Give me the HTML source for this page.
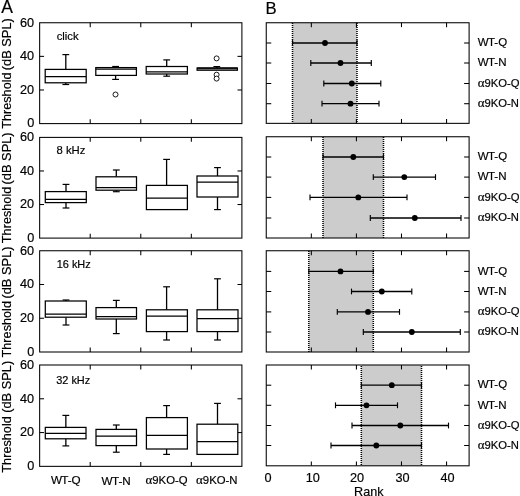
<!DOCTYPE html>
<html lang="en">
<head>
<meta charset="utf-8">
<title>Figure: ABR thresholds and rank comparison</title>
<style>
html,body{margin:0;padding:0;background:#fff;}
body{width:520px;height:496px;overflow:hidden;}
svg{display:block;font-family:'Liberation Sans', Arial, Helvetica, sans-serif;fill:#000;will-change:transform;transform:translateZ(0);}
text{stroke:#000;stroke-width:0.18px;}
</style>
</head>
<body>
<svg width="520" height="496" viewBox="0 0 520 496">
<rect x="0" y="0" width="520" height="496" fill="#fff"/>
<rect x="39.65" y="22.75" width="202.25" height="100.85" fill="#fff" stroke="#000" stroke-width="1.05"/>
<line x1="90.21" y1="22.75" x2="90.21" y2="27.15" stroke="#000" stroke-width="1.05" />
<line x1="90.21" y1="123.60" x2="90.21" y2="119.20" stroke="#000" stroke-width="1.05" />
<line x1="140.78" y1="22.75" x2="140.78" y2="27.15" stroke="#000" stroke-width="1.05" />
<line x1="140.78" y1="123.60" x2="140.78" y2="119.20" stroke="#000" stroke-width="1.05" />
<line x1="191.34" y1="22.75" x2="191.34" y2="27.15" stroke="#000" stroke-width="1.05" />
<line x1="191.34" y1="123.60" x2="191.34" y2="119.20" stroke="#000" stroke-width="1.05" />
<line x1="39.65" y1="56.37" x2="44.05" y2="56.37" stroke="#000" stroke-width="1.05" />
<line x1="241.90" y1="56.37" x2="237.50" y2="56.37" stroke="#000" stroke-width="1.05" />
<line x1="39.65" y1="89.98" x2="44.05" y2="89.98" stroke="#000" stroke-width="1.05" />
<line x1="241.90" y1="89.98" x2="237.50" y2="89.98" stroke="#000" stroke-width="1.05" />
<text x="34.20" y="26.50" font-size="12.7" text-anchor="end" >60</text>
<text x="34.20" y="60.12" font-size="12.7" text-anchor="end" >40</text>
<text x="34.20" y="93.73" font-size="12.7" text-anchor="end" >20</text>
<text x="34.20" y="127.35" font-size="12.7" text-anchor="end" >0</text>
<text x="0.00" y="0.00" font-size="12.7" text-anchor="start" transform="translate(10.55 128.85) rotate(-90)">Threshold</text>
<text x="0.00" y="0.00" font-size="12.85" text-anchor="end" transform="translate(10.55 18.15) rotate(-90)">(dB SPL)</text>
<text x="56.70" y="40.20" font-size="11.3" text-anchor="start" >click</text>
<line x1="65.80" y1="69.40" x2="65.80" y2="54.60" stroke="#000" stroke-width="1.3" />
<line x1="62.40" y1="54.60" x2="69.20" y2="54.60" stroke="#000" stroke-width="1.2" />
<line x1="65.80" y1="82.80" x2="65.80" y2="84.50" stroke="#000" stroke-width="1.3" />
<line x1="62.40" y1="84.50" x2="69.20" y2="84.50" stroke="#000" stroke-width="1.2" />
<rect x="45.2" y="69.4" width="41.00" height="13.40" fill="#fff" stroke="#000" stroke-width="1.25"/>
<line x1="45.20" y1="76.50" x2="86.20" y2="76.50" stroke="#000" stroke-width="1.25" />
<line x1="115.60" y1="67.60" x2="115.60" y2="66.50" stroke="#000" stroke-width="1.3" />
<line x1="112.20" y1="66.50" x2="119.00" y2="66.50" stroke="#000" stroke-width="1.2" />
<line x1="115.60" y1="75.40" x2="115.60" y2="79.40" stroke="#000" stroke-width="1.3" />
<line x1="112.20" y1="79.40" x2="119.00" y2="79.40" stroke="#000" stroke-width="1.2" />
<rect x="95.8" y="67.6" width="40.60" height="7.80" fill="#fff" stroke="#000" stroke-width="1.25"/>
<line x1="95.80" y1="69.00" x2="136.40" y2="69.00" stroke="#000" stroke-width="1.25" />
<circle cx="115.5" cy="94.5" r="2.5" fill="#fff" stroke="#000" stroke-width="0.9"/>
<line x1="166.70" y1="66.50" x2="166.70" y2="59.90" stroke="#000" stroke-width="1.3" />
<line x1="163.30" y1="59.90" x2="170.10" y2="59.90" stroke="#000" stroke-width="1.2" />
<line x1="166.70" y1="74.00" x2="166.70" y2="76.20" stroke="#000" stroke-width="1.3" />
<line x1="163.30" y1="76.20" x2="170.10" y2="76.20" stroke="#000" stroke-width="1.2" />
<rect x="146.2" y="66.5" width="41.20" height="7.50" fill="#fff" stroke="#000" stroke-width="1.25"/>
<line x1="146.20" y1="71.80" x2="187.40" y2="71.80" stroke="#000" stroke-width="1.25" />
<line x1="216.80" y1="68.00" x2="216.80" y2="66.60" stroke="#000" stroke-width="1.3" />
<line x1="213.40" y1="66.60" x2="220.20" y2="66.60" stroke="#000" stroke-width="1.2" />
<rect x="197.1" y="68.0" width="40.30" height="2.20" fill="#a8a8a8" stroke="#000" stroke-width="1.25"/>
<line x1="197.10" y1="68.00" x2="237.40" y2="68.00" stroke="#000" stroke-width="1.25" />
<circle cx="216.6" cy="58.4" r="2.5" fill="#fff" stroke="#000" stroke-width="0.9"/>
<circle cx="216.6" cy="74.7" r="2.5" fill="#fff" stroke="#000" stroke-width="0.9"/>
<circle cx="216.6" cy="78.6" r="2.5" fill="#fff" stroke="#000" stroke-width="0.9"/>
<rect x="39.65" y="137.4" width="202.25" height="100.70" fill="#fff" stroke="#000" stroke-width="1.05"/>
<line x1="90.21" y1="137.40" x2="90.21" y2="141.80" stroke="#000" stroke-width="1.05" />
<line x1="90.21" y1="238.10" x2="90.21" y2="233.70" stroke="#000" stroke-width="1.05" />
<line x1="140.78" y1="137.40" x2="140.78" y2="141.80" stroke="#000" stroke-width="1.05" />
<line x1="140.78" y1="238.10" x2="140.78" y2="233.70" stroke="#000" stroke-width="1.05" />
<line x1="191.34" y1="137.40" x2="191.34" y2="141.80" stroke="#000" stroke-width="1.05" />
<line x1="191.34" y1="238.10" x2="191.34" y2="233.70" stroke="#000" stroke-width="1.05" />
<line x1="39.65" y1="170.97" x2="44.05" y2="170.97" stroke="#000" stroke-width="1.05" />
<line x1="241.90" y1="170.97" x2="237.50" y2="170.97" stroke="#000" stroke-width="1.05" />
<line x1="39.65" y1="204.53" x2="44.05" y2="204.53" stroke="#000" stroke-width="1.05" />
<line x1="241.90" y1="204.53" x2="237.50" y2="204.53" stroke="#000" stroke-width="1.05" />
<text x="34.20" y="141.00" font-size="12.7" text-anchor="end" >60</text>
<text x="34.20" y="174.57" font-size="12.7" text-anchor="end" >40</text>
<text x="34.20" y="208.13" font-size="12.7" text-anchor="end" >20</text>
<text x="34.20" y="241.70" font-size="12.7" text-anchor="end" >0</text>
<text x="0.00" y="0.00" font-size="12.7" text-anchor="start" transform="translate(10.55 243.15) rotate(-90)">Threshold</text>
<text x="0.00" y="0.00" font-size="12.85" text-anchor="end" transform="translate(10.55 132.35) rotate(-90)">(dB SPL)</text>
<text x="56.50" y="153.70" font-size="11.3" text-anchor="start" >8 kHz</text>
<line x1="66.00" y1="191.60" x2="66.00" y2="184.40" stroke="#000" stroke-width="1.3" />
<line x1="62.60" y1="184.40" x2="69.40" y2="184.40" stroke="#000" stroke-width="1.2" />
<line x1="66.00" y1="202.60" x2="66.00" y2="208.00" stroke="#000" stroke-width="1.3" />
<line x1="62.60" y1="208.00" x2="69.40" y2="208.00" stroke="#000" stroke-width="1.2" />
<rect x="45.3" y="191.6" width="41.00" height="11.00" fill="#fff" stroke="#000" stroke-width="1.25"/>
<line x1="45.30" y1="199.40" x2="86.30" y2="199.40" stroke="#000" stroke-width="1.25" />
<line x1="116.30" y1="176.80" x2="116.30" y2="170.00" stroke="#000" stroke-width="1.3" />
<line x1="112.90" y1="170.00" x2="119.70" y2="170.00" stroke="#000" stroke-width="1.2" />
<line x1="116.30" y1="190.20" x2="116.30" y2="191.70" stroke="#000" stroke-width="1.3" />
<line x1="112.90" y1="191.70" x2="119.70" y2="191.70" stroke="#000" stroke-width="1.2" />
<rect x="96.0" y="176.8" width="40.50" height="13.40" fill="#fff" stroke="#000" stroke-width="1.25"/>
<line x1="96.00" y1="187.60" x2="136.50" y2="187.60" stroke="#000" stroke-width="1.25" />
<line x1="166.60" y1="185.40" x2="166.60" y2="159.40" stroke="#000" stroke-width="1.3" />
<line x1="163.20" y1="159.40" x2="170.00" y2="159.40" stroke="#000" stroke-width="1.2" />
<rect x="146.4" y="185.4" width="41.00" height="24.20" fill="#fff" stroke="#000" stroke-width="1.25"/>
<line x1="146.40" y1="198.20" x2="187.40" y2="198.20" stroke="#000" stroke-width="1.25" />
<line x1="217.50" y1="176.00" x2="217.50" y2="167.60" stroke="#000" stroke-width="1.3" />
<line x1="214.10" y1="167.60" x2="220.90" y2="167.60" stroke="#000" stroke-width="1.2" />
<line x1="217.50" y1="197.00" x2="217.50" y2="209.60" stroke="#000" stroke-width="1.3" />
<line x1="214.10" y1="209.60" x2="220.90" y2="209.60" stroke="#000" stroke-width="1.2" />
<rect x="197.0" y="176.0" width="41.00" height="21.00" fill="#fff" stroke="#000" stroke-width="1.25"/>
<line x1="197.00" y1="182.00" x2="238.00" y2="182.00" stroke="#000" stroke-width="1.25" />
<rect x="39.65" y="250.75" width="202.25" height="101.25" fill="#fff" stroke="#000" stroke-width="1.05"/>
<line x1="90.21" y1="250.75" x2="90.21" y2="255.15" stroke="#000" stroke-width="1.05" />
<line x1="90.21" y1="352.00" x2="90.21" y2="347.60" stroke="#000" stroke-width="1.05" />
<line x1="140.78" y1="250.75" x2="140.78" y2="255.15" stroke="#000" stroke-width="1.05" />
<line x1="140.78" y1="352.00" x2="140.78" y2="347.60" stroke="#000" stroke-width="1.05" />
<line x1="191.34" y1="250.75" x2="191.34" y2="255.15" stroke="#000" stroke-width="1.05" />
<line x1="191.34" y1="352.00" x2="191.34" y2="347.60" stroke="#000" stroke-width="1.05" />
<line x1="39.65" y1="284.50" x2="44.05" y2="284.50" stroke="#000" stroke-width="1.05" />
<line x1="241.90" y1="284.50" x2="237.50" y2="284.50" stroke="#000" stroke-width="1.05" />
<line x1="39.65" y1="318.25" x2="44.05" y2="318.25" stroke="#000" stroke-width="1.05" />
<line x1="241.90" y1="318.25" x2="237.50" y2="318.25" stroke="#000" stroke-width="1.05" />
<text x="34.20" y="254.65" font-size="12.7" text-anchor="end" >60</text>
<text x="34.20" y="288.40" font-size="12.7" text-anchor="end" >40</text>
<text x="34.20" y="322.15" font-size="12.7" text-anchor="end" >20</text>
<text x="34.20" y="355.90" font-size="12.7" text-anchor="end" >0</text>
<text x="0.00" y="0.00" font-size="12.7" text-anchor="start" transform="translate(10.55 357.45) rotate(-90)">Threshold</text>
<text x="0.00" y="0.00" font-size="12.85" text-anchor="end" transform="translate(10.55 246.45) rotate(-90)">(dB SPL)</text>
<text x="56.70" y="268.40" font-size="10.95" text-anchor="start" >16 kHz</text>
<line x1="66.00" y1="301.00" x2="66.00" y2="300.00" stroke="#000" stroke-width="1.3" />
<line x1="62.60" y1="300.00" x2="69.40" y2="300.00" stroke="#000" stroke-width="1.2" />
<line x1="66.00" y1="317.20" x2="66.00" y2="325.00" stroke="#000" stroke-width="1.3" />
<line x1="62.60" y1="325.00" x2="69.40" y2="325.00" stroke="#000" stroke-width="1.2" />
<rect x="45.3" y="301.0" width="41.00" height="16.20" fill="#fff" stroke="#000" stroke-width="1.25"/>
<line x1="45.30" y1="314.00" x2="86.30" y2="314.00" stroke="#000" stroke-width="1.25" />
<line x1="116.30" y1="307.60" x2="116.30" y2="300.40" stroke="#000" stroke-width="1.3" />
<line x1="112.90" y1="300.40" x2="119.70" y2="300.40" stroke="#000" stroke-width="1.2" />
<line x1="116.30" y1="319.00" x2="116.30" y2="333.60" stroke="#000" stroke-width="1.3" />
<line x1="112.90" y1="333.60" x2="119.70" y2="333.60" stroke="#000" stroke-width="1.2" />
<rect x="96.0" y="307.6" width="40.50" height="11.40" fill="#fff" stroke="#000" stroke-width="1.25"/>
<line x1="96.00" y1="316.60" x2="136.50" y2="316.60" stroke="#000" stroke-width="1.25" />
<line x1="166.60" y1="309.80" x2="166.60" y2="286.80" stroke="#000" stroke-width="1.3" />
<line x1="163.20" y1="286.80" x2="170.00" y2="286.80" stroke="#000" stroke-width="1.2" />
<line x1="166.60" y1="331.60" x2="166.60" y2="340.00" stroke="#000" stroke-width="1.3" />
<line x1="163.20" y1="340.00" x2="170.00" y2="340.00" stroke="#000" stroke-width="1.2" />
<rect x="146.4" y="309.8" width="41.00" height="21.80" fill="#fff" stroke="#000" stroke-width="1.25"/>
<line x1="146.40" y1="316.20" x2="187.40" y2="316.20" stroke="#000" stroke-width="1.25" />
<line x1="217.50" y1="309.80" x2="217.50" y2="278.80" stroke="#000" stroke-width="1.3" />
<line x1="214.10" y1="278.80" x2="220.90" y2="278.80" stroke="#000" stroke-width="1.2" />
<line x1="217.50" y1="331.60" x2="217.50" y2="340.00" stroke="#000" stroke-width="1.3" />
<line x1="214.10" y1="340.00" x2="220.90" y2="340.00" stroke="#000" stroke-width="1.2" />
<rect x="197.0" y="309.8" width="41.00" height="21.80" fill="#fff" stroke="#000" stroke-width="1.25"/>
<line x1="197.00" y1="318.60" x2="238.00" y2="318.60" stroke="#000" stroke-width="1.25" />
<rect x="39.65" y="365.0" width="202.25" height="101.35" fill="#fff" stroke="#000" stroke-width="1.05"/>
<line x1="90.21" y1="365.00" x2="90.21" y2="369.40" stroke="#000" stroke-width="1.05" />
<line x1="90.21" y1="466.35" x2="90.21" y2="461.95" stroke="#000" stroke-width="1.05" />
<line x1="140.78" y1="365.00" x2="140.78" y2="369.40" stroke="#000" stroke-width="1.05" />
<line x1="140.78" y1="466.35" x2="140.78" y2="461.95" stroke="#000" stroke-width="1.05" />
<line x1="191.34" y1="365.00" x2="191.34" y2="369.40" stroke="#000" stroke-width="1.05" />
<line x1="191.34" y1="466.35" x2="191.34" y2="461.95" stroke="#000" stroke-width="1.05" />
<line x1="39.65" y1="398.78" x2="44.05" y2="398.78" stroke="#000" stroke-width="1.05" />
<line x1="241.90" y1="398.78" x2="237.50" y2="398.78" stroke="#000" stroke-width="1.05" />
<line x1="39.65" y1="432.57" x2="44.05" y2="432.57" stroke="#000" stroke-width="1.05" />
<line x1="241.90" y1="432.57" x2="237.50" y2="432.57" stroke="#000" stroke-width="1.05" />
<text x="34.20" y="368.90" font-size="12.7" text-anchor="end" >60</text>
<text x="34.20" y="402.68" font-size="12.7" text-anchor="end" >40</text>
<text x="34.20" y="436.47" font-size="12.7" text-anchor="end" >20</text>
<text x="34.20" y="470.25" font-size="12.7" text-anchor="end" >0</text>
<text x="0.00" y="0.00" font-size="12.7" text-anchor="start" transform="translate(10.55 472.65) rotate(-90)">Threshold</text>
<text x="0.00" y="0.00" font-size="12.85" text-anchor="end" transform="translate(10.55 360.75) rotate(-90)">(dB SPL)</text>
<text x="56.20" y="384.20" font-size="10.95" text-anchor="start" >32 kHz</text>
<line x1="65.85" y1="427.40" x2="65.85" y2="415.40" stroke="#000" stroke-width="1.3" />
<line x1="62.45" y1="415.40" x2="69.25" y2="415.40" stroke="#000" stroke-width="1.2" />
<line x1="65.85" y1="438.80" x2="65.85" y2="445.90" stroke="#000" stroke-width="1.3" />
<line x1="62.45" y1="445.90" x2="69.25" y2="445.90" stroke="#000" stroke-width="1.2" />
<rect x="45.3" y="427.4" width="40.70" height="11.40" fill="#fff" stroke="#000" stroke-width="1.25"/>
<line x1="45.30" y1="433.40" x2="86.00" y2="433.40" stroke="#000" stroke-width="1.25" />
<line x1="116.30" y1="429.40" x2="116.30" y2="425.00" stroke="#000" stroke-width="1.3" />
<line x1="112.90" y1="425.00" x2="119.70" y2="425.00" stroke="#000" stroke-width="1.2" />
<line x1="116.30" y1="445.60" x2="116.30" y2="452.20" stroke="#000" stroke-width="1.3" />
<line x1="112.90" y1="452.20" x2="119.70" y2="452.20" stroke="#000" stroke-width="1.2" />
<rect x="96.0" y="429.4" width="40.50" height="16.20" fill="#fff" stroke="#000" stroke-width="1.25"/>
<line x1="96.00" y1="436.20" x2="136.50" y2="436.20" stroke="#000" stroke-width="1.25" />
<line x1="166.60" y1="417.60" x2="166.60" y2="405.60" stroke="#000" stroke-width="1.3" />
<line x1="163.20" y1="405.60" x2="170.00" y2="405.60" stroke="#000" stroke-width="1.2" />
<line x1="166.60" y1="449.00" x2="166.60" y2="454.40" stroke="#000" stroke-width="1.3" />
<line x1="163.20" y1="454.40" x2="170.00" y2="454.40" stroke="#000" stroke-width="1.2" />
<rect x="146.4" y="417.6" width="41.00" height="31.40" fill="#fff" stroke="#000" stroke-width="1.25"/>
<line x1="146.40" y1="435.40" x2="187.40" y2="435.40" stroke="#000" stroke-width="1.25" />
<line x1="217.50" y1="424.20" x2="217.50" y2="403.40" stroke="#000" stroke-width="1.3" />
<line x1="214.10" y1="403.40" x2="220.90" y2="403.40" stroke="#000" stroke-width="1.2" />
<rect x="197.0" y="424.2" width="40.80" height="30.20" fill="#fff" stroke="#000" stroke-width="1.25"/>
<line x1="197.00" y1="441.70" x2="237.80" y2="441.70" stroke="#000" stroke-width="1.25" />
<text x="65.80" y="484.00" font-size="11.7" text-anchor="middle" >W<tspan dx="-0.7">T-Q</tspan></text>
<text x="116.20" y="484.90" font-size="11.7" text-anchor="middle" >W<tspan dx="-0.7">T-N</tspan></text>
<text x="166.50" y="483.90" font-size="11.35" text-anchor="middle" ><tspan font-family="'Liberation Serif', serif" font-size="13">α</tspan>9KO-Q</text>
<text x="216.80" y="483.90" font-size="11.35" text-anchor="middle" ><tspan font-family="'Liberation Serif', serif" font-size="13">α</tspan>9KO-N</text>
<text x="1.20" y="13.00" font-size="17.5" text-anchor="start" >A</text>
<rect x="266.25" y="22.75" width="202.85" height="100.60" fill="#fff" stroke="none"/>
<rect x="292.5" y="22.75" width="64.50" height="100.60" fill="#cccccc"/>
<line x1="292.50" y1="22.90" x2="292.50" y2="123.35" stroke="#000" stroke-width="1.55" stroke-dasharray="1.2 0.8"/>
<line x1="357.00" y1="22.90" x2="357.00" y2="123.35" stroke="#000" stroke-width="1.55" stroke-dasharray="1.2 0.8"/>
<rect x="266.25" y="22.75" width="202.85" height="100.60" fill="none" stroke="#000" stroke-width="1.05"/>
<line x1="311.33" y1="22.75" x2="311.33" y2="27.15" stroke="#000" stroke-width="1.05" />
<line x1="311.33" y1="123.35" x2="311.33" y2="118.95" stroke="#000" stroke-width="1.05" />
<line x1="356.41" y1="22.75" x2="356.41" y2="27.15" stroke="#000" stroke-width="1.05" />
<line x1="356.41" y1="123.35" x2="356.41" y2="118.95" stroke="#000" stroke-width="1.05" />
<line x1="401.48" y1="22.75" x2="401.48" y2="27.15" stroke="#000" stroke-width="1.05" />
<line x1="401.48" y1="123.35" x2="401.48" y2="118.95" stroke="#000" stroke-width="1.05" />
<line x1="446.56" y1="22.75" x2="446.56" y2="27.15" stroke="#000" stroke-width="1.05" />
<line x1="446.56" y1="123.35" x2="446.56" y2="118.95" stroke="#000" stroke-width="1.05" />
<line x1="266.25" y1="43.00" x2="271.25" y2="43.00" stroke="#000" stroke-width="1.05" />
<line x1="469.10" y1="43.00" x2="464.10" y2="43.00" stroke="#000" stroke-width="1.05" />
<line x1="292.50" y1="43.00" x2="357.00" y2="43.00" stroke="#000" stroke-width="1.3" />
<line x1="292.50" y1="40.10" x2="292.50" y2="45.90" stroke="#000" stroke-width="1.15" />
<line x1="357.00" y1="40.10" x2="357.00" y2="45.90" stroke="#000" stroke-width="1.15" />
<circle cx="325.0" cy="43.0" r="2.9" fill="#000"/>
<line x1="266.25" y1="63.00" x2="271.25" y2="63.00" stroke="#000" stroke-width="1.05" />
<line x1="469.10" y1="63.00" x2="464.10" y2="63.00" stroke="#000" stroke-width="1.05" />
<line x1="310.80" y1="63.00" x2="371.30" y2="63.00" stroke="#000" stroke-width="1.3" />
<line x1="310.80" y1="60.10" x2="310.80" y2="65.90" stroke="#000" stroke-width="1.15" />
<line x1="371.30" y1="60.10" x2="371.30" y2="65.90" stroke="#000" stroke-width="1.15" />
<circle cx="340.5" cy="63.0" r="2.9" fill="#000"/>
<line x1="266.25" y1="83.50" x2="271.25" y2="83.50" stroke="#000" stroke-width="1.05" />
<line x1="469.10" y1="83.50" x2="464.10" y2="83.50" stroke="#000" stroke-width="1.05" />
<line x1="323.80" y1="83.50" x2="380.80" y2="83.50" stroke="#000" stroke-width="1.3" />
<line x1="323.80" y1="80.60" x2="323.80" y2="86.40" stroke="#000" stroke-width="1.15" />
<line x1="380.80" y1="80.60" x2="380.80" y2="86.40" stroke="#000" stroke-width="1.15" />
<circle cx="351.8" cy="83.5" r="2.9" fill="#000"/>
<line x1="266.25" y1="103.70" x2="271.25" y2="103.70" stroke="#000" stroke-width="1.05" />
<line x1="469.10" y1="103.70" x2="464.10" y2="103.70" stroke="#000" stroke-width="1.05" />
<line x1="322.00" y1="103.70" x2="379.00" y2="103.70" stroke="#000" stroke-width="1.3" />
<line x1="322.00" y1="100.80" x2="322.00" y2="106.60" stroke="#000" stroke-width="1.15" />
<line x1="379.00" y1="100.80" x2="379.00" y2="106.60" stroke="#000" stroke-width="1.15" />
<circle cx="350.5" cy="103.7" r="2.9" fill="#000"/>
<text x="477.80" y="46.20" font-size="11.5" text-anchor="start" >W<tspan dx="-0.7">T-Q</tspan></text>
<text x="477.80" y="66.20" font-size="11.5" text-anchor="start" >W<tspan dx="-0.7">T-N</tspan></text>
<text x="477.80" y="86.70" font-size="11.25" text-anchor="start" ><tspan font-family="'Liberation Serif', serif" font-size="13">α</tspan>9KO-Q</text>
<text x="477.80" y="106.90" font-size="11.25" text-anchor="start" ><tspan font-family="'Liberation Serif', serif" font-size="13">α</tspan>9KO-N</text>
<rect x="266.25" y="136.75" width="202.85" height="101.25" fill="#fff" stroke="none"/>
<rect x="323.0" y="136.75" width="60.50" height="101.25" fill="#cccccc"/>
<line x1="323.00" y1="136.90" x2="323.00" y2="238.00" stroke="#000" stroke-width="1.55" stroke-dasharray="1.2 0.8"/>
<line x1="383.50" y1="136.90" x2="383.50" y2="238.00" stroke="#000" stroke-width="1.55" stroke-dasharray="1.2 0.8"/>
<rect x="266.25" y="136.75" width="202.85" height="101.25" fill="none" stroke="#000" stroke-width="1.05"/>
<line x1="311.33" y1="136.75" x2="311.33" y2="141.15" stroke="#000" stroke-width="1.05" />
<line x1="311.33" y1="238.00" x2="311.33" y2="233.60" stroke="#000" stroke-width="1.05" />
<line x1="356.41" y1="136.75" x2="356.41" y2="141.15" stroke="#000" stroke-width="1.05" />
<line x1="356.41" y1="238.00" x2="356.41" y2="233.60" stroke="#000" stroke-width="1.05" />
<line x1="401.48" y1="136.75" x2="401.48" y2="141.15" stroke="#000" stroke-width="1.05" />
<line x1="401.48" y1="238.00" x2="401.48" y2="233.60" stroke="#000" stroke-width="1.05" />
<line x1="446.56" y1="136.75" x2="446.56" y2="141.15" stroke="#000" stroke-width="1.05" />
<line x1="446.56" y1="238.00" x2="446.56" y2="233.60" stroke="#000" stroke-width="1.05" />
<line x1="266.25" y1="157.00" x2="271.25" y2="157.00" stroke="#000" stroke-width="1.05" />
<line x1="469.10" y1="157.00" x2="464.10" y2="157.00" stroke="#000" stroke-width="1.05" />
<line x1="323.00" y1="157.00" x2="383.50" y2="157.00" stroke="#000" stroke-width="1.3" />
<line x1="323.00" y1="154.10" x2="323.00" y2="159.90" stroke="#000" stroke-width="1.15" />
<line x1="383.50" y1="154.10" x2="383.50" y2="159.90" stroke="#000" stroke-width="1.15" />
<circle cx="353.3" cy="157.0" r="2.9" fill="#000"/>
<line x1="266.25" y1="177.10" x2="271.25" y2="177.10" stroke="#000" stroke-width="1.05" />
<line x1="469.10" y1="177.10" x2="464.10" y2="177.10" stroke="#000" stroke-width="1.05" />
<line x1="373.30" y1="177.10" x2="435.50" y2="177.10" stroke="#000" stroke-width="1.3" />
<line x1="373.30" y1="174.20" x2="373.30" y2="180.00" stroke="#000" stroke-width="1.15" />
<line x1="435.50" y1="174.20" x2="435.50" y2="180.00" stroke="#000" stroke-width="1.15" />
<circle cx="404.3" cy="177.1" r="2.9" fill="#000"/>
<line x1="266.25" y1="197.40" x2="271.25" y2="197.40" stroke="#000" stroke-width="1.05" />
<line x1="469.10" y1="197.40" x2="464.10" y2="197.40" stroke="#000" stroke-width="1.05" />
<line x1="310.00" y1="197.40" x2="407.00" y2="197.40" stroke="#000" stroke-width="1.3" />
<line x1="310.00" y1="194.50" x2="310.00" y2="200.30" stroke="#000" stroke-width="1.15" />
<line x1="407.00" y1="194.50" x2="407.00" y2="200.30" stroke="#000" stroke-width="1.15" />
<circle cx="358.3" cy="197.4" r="2.9" fill="#000"/>
<line x1="266.25" y1="218.00" x2="271.25" y2="218.00" stroke="#000" stroke-width="1.05" />
<line x1="469.10" y1="218.00" x2="464.10" y2="218.00" stroke="#000" stroke-width="1.05" />
<line x1="370.30" y1="218.00" x2="461.00" y2="218.00" stroke="#000" stroke-width="1.3" />
<line x1="370.30" y1="215.10" x2="370.30" y2="220.90" stroke="#000" stroke-width="1.15" />
<line x1="461.00" y1="215.10" x2="461.00" y2="220.90" stroke="#000" stroke-width="1.15" />
<circle cx="414.8" cy="218.0" r="2.9" fill="#000"/>
<text x="477.80" y="160.20" font-size="11.5" text-anchor="start" >W<tspan dx="-0.7">T-Q</tspan></text>
<text x="477.80" y="180.30" font-size="11.5" text-anchor="start" >W<tspan dx="-0.7">T-N</tspan></text>
<text x="477.80" y="200.60" font-size="11.25" text-anchor="start" ><tspan font-family="'Liberation Serif', serif" font-size="13">α</tspan>9KO-Q</text>
<text x="477.80" y="221.20" font-size="11.25" text-anchor="start" ><tspan font-family="'Liberation Serif', serif" font-size="13">α</tspan>9KO-N</text>
<rect x="266.25" y="250.75" width="202.85" height="101.25" fill="#fff" stroke="none"/>
<rect x="308.8" y="250.75" width="64.50" height="101.25" fill="#cccccc"/>
<line x1="308.80" y1="250.90" x2="308.80" y2="352.00" stroke="#000" stroke-width="1.55" stroke-dasharray="1.2 0.8"/>
<line x1="373.30" y1="250.90" x2="373.30" y2="352.00" stroke="#000" stroke-width="1.55" stroke-dasharray="1.2 0.8"/>
<rect x="266.25" y="250.75" width="202.85" height="101.25" fill="none" stroke="#000" stroke-width="1.05"/>
<line x1="311.33" y1="250.75" x2="311.33" y2="255.15" stroke="#000" stroke-width="1.05" />
<line x1="311.33" y1="352.00" x2="311.33" y2="347.60" stroke="#000" stroke-width="1.05" />
<line x1="356.41" y1="250.75" x2="356.41" y2="255.15" stroke="#000" stroke-width="1.05" />
<line x1="356.41" y1="352.00" x2="356.41" y2="347.60" stroke="#000" stroke-width="1.05" />
<line x1="401.48" y1="250.75" x2="401.48" y2="255.15" stroke="#000" stroke-width="1.05" />
<line x1="401.48" y1="352.00" x2="401.48" y2="347.60" stroke="#000" stroke-width="1.05" />
<line x1="446.56" y1="250.75" x2="446.56" y2="255.15" stroke="#000" stroke-width="1.05" />
<line x1="446.56" y1="352.00" x2="446.56" y2="347.60" stroke="#000" stroke-width="1.05" />
<line x1="266.25" y1="271.40" x2="271.25" y2="271.40" stroke="#000" stroke-width="1.05" />
<line x1="469.10" y1="271.40" x2="464.10" y2="271.40" stroke="#000" stroke-width="1.05" />
<line x1="308.80" y1="271.40" x2="373.30" y2="271.40" stroke="#000" stroke-width="1.3" />
<line x1="308.80" y1="268.50" x2="308.80" y2="274.30" stroke="#000" stroke-width="1.15" />
<line x1="373.30" y1="268.50" x2="373.30" y2="274.30" stroke="#000" stroke-width="1.15" />
<circle cx="340.5" cy="271.4" r="2.9" fill="#000"/>
<line x1="266.25" y1="291.50" x2="271.25" y2="291.50" stroke="#000" stroke-width="1.05" />
<line x1="469.10" y1="291.50" x2="464.10" y2="291.50" stroke="#000" stroke-width="1.05" />
<line x1="351.50" y1="291.50" x2="411.80" y2="291.50" stroke="#000" stroke-width="1.3" />
<line x1="351.50" y1="288.60" x2="351.50" y2="294.40" stroke="#000" stroke-width="1.15" />
<line x1="411.80" y1="288.60" x2="411.80" y2="294.40" stroke="#000" stroke-width="1.15" />
<circle cx="381.8" cy="291.5" r="2.9" fill="#000"/>
<line x1="266.25" y1="311.90" x2="271.25" y2="311.90" stroke="#000" stroke-width="1.05" />
<line x1="469.10" y1="311.90" x2="464.10" y2="311.90" stroke="#000" stroke-width="1.05" />
<line x1="337.30" y1="311.90" x2="399.50" y2="311.90" stroke="#000" stroke-width="1.3" />
<line x1="337.30" y1="309.00" x2="337.30" y2="314.80" stroke="#000" stroke-width="1.15" />
<line x1="399.50" y1="309.00" x2="399.50" y2="314.80" stroke="#000" stroke-width="1.15" />
<circle cx="368.0" cy="311.9" r="2.9" fill="#000"/>
<line x1="266.25" y1="332.00" x2="271.25" y2="332.00" stroke="#000" stroke-width="1.05" />
<line x1="469.10" y1="332.00" x2="464.10" y2="332.00" stroke="#000" stroke-width="1.05" />
<line x1="363.30" y1="332.00" x2="460.30" y2="332.00" stroke="#000" stroke-width="1.3" />
<line x1="363.30" y1="329.10" x2="363.30" y2="334.90" stroke="#000" stroke-width="1.15" />
<line x1="460.30" y1="329.10" x2="460.30" y2="334.90" stroke="#000" stroke-width="1.15" />
<circle cx="411.8" cy="332.0" r="2.9" fill="#000"/>
<text x="477.80" y="274.60" font-size="11.5" text-anchor="start" >W<tspan dx="-0.7">T-Q</tspan></text>
<text x="477.80" y="294.70" font-size="11.5" text-anchor="start" >W<tspan dx="-0.7">T-N</tspan></text>
<text x="477.80" y="315.10" font-size="11.25" text-anchor="start" ><tspan font-family="'Liberation Serif', serif" font-size="13">α</tspan>9KO-Q</text>
<text x="477.80" y="335.20" font-size="11.25" text-anchor="start" ><tspan font-family="'Liberation Serif', serif" font-size="13">α</tspan>9KO-N</text>
<rect x="266.25" y="365.0" width="202.85" height="100.80" fill="#fff" stroke="none"/>
<rect x="361.3" y="365.0" width="60.20" height="100.80" fill="#cccccc"/>
<line x1="361.30" y1="365.90" x2="361.30" y2="465.80" stroke="#000" stroke-width="1.55" stroke-dasharray="1.2 0.8"/>
<line x1="421.50" y1="365.90" x2="421.50" y2="465.80" stroke="#000" stroke-width="1.55" stroke-dasharray="1.2 0.8"/>
<rect x="266.25" y="365.0" width="202.85" height="100.80" fill="none" stroke="#000" stroke-width="1.05"/>
<line x1="311.33" y1="365.00" x2="311.33" y2="369.40" stroke="#000" stroke-width="1.05" />
<line x1="311.33" y1="465.80" x2="311.33" y2="461.40" stroke="#000" stroke-width="1.05" />
<line x1="356.41" y1="365.00" x2="356.41" y2="369.40" stroke="#000" stroke-width="1.05" />
<line x1="356.41" y1="465.80" x2="356.41" y2="461.40" stroke="#000" stroke-width="1.05" />
<line x1="401.48" y1="365.00" x2="401.48" y2="369.40" stroke="#000" stroke-width="1.05" />
<line x1="401.48" y1="465.80" x2="401.48" y2="461.40" stroke="#000" stroke-width="1.05" />
<line x1="446.56" y1="365.00" x2="446.56" y2="369.40" stroke="#000" stroke-width="1.05" />
<line x1="446.56" y1="465.80" x2="446.56" y2="461.40" stroke="#000" stroke-width="1.05" />
<line x1="266.25" y1="385.20" x2="271.25" y2="385.20" stroke="#000" stroke-width="1.05" />
<line x1="469.10" y1="385.20" x2="464.10" y2="385.20" stroke="#000" stroke-width="1.05" />
<line x1="361.30" y1="385.20" x2="421.50" y2="385.20" stroke="#000" stroke-width="1.3" />
<line x1="361.30" y1="382.30" x2="361.30" y2="388.10" stroke="#000" stroke-width="1.15" />
<line x1="421.50" y1="382.30" x2="421.50" y2="388.10" stroke="#000" stroke-width="1.15" />
<circle cx="391.8" cy="385.2" r="2.9" fill="#000"/>
<line x1="266.25" y1="405.30" x2="271.25" y2="405.30" stroke="#000" stroke-width="1.05" />
<line x1="469.10" y1="405.30" x2="464.10" y2="405.30" stroke="#000" stroke-width="1.05" />
<line x1="335.50" y1="405.30" x2="397.50" y2="405.30" stroke="#000" stroke-width="1.3" />
<line x1="335.50" y1="402.40" x2="335.50" y2="408.20" stroke="#000" stroke-width="1.15" />
<line x1="397.50" y1="402.40" x2="397.50" y2="408.20" stroke="#000" stroke-width="1.15" />
<circle cx="366.5" cy="405.3" r="2.9" fill="#000"/>
<line x1="266.25" y1="425.50" x2="271.25" y2="425.50" stroke="#000" stroke-width="1.05" />
<line x1="469.10" y1="425.50" x2="464.10" y2="425.50" stroke="#000" stroke-width="1.05" />
<line x1="352.00" y1="425.50" x2="448.50" y2="425.50" stroke="#000" stroke-width="1.3" />
<line x1="352.00" y1="422.60" x2="352.00" y2="428.40" stroke="#000" stroke-width="1.15" />
<line x1="448.50" y1="422.60" x2="448.50" y2="428.40" stroke="#000" stroke-width="1.15" />
<circle cx="400.3" cy="425.5" r="2.9" fill="#000"/>
<line x1="266.25" y1="445.50" x2="271.25" y2="445.50" stroke="#000" stroke-width="1.05" />
<line x1="469.10" y1="445.50" x2="464.10" y2="445.50" stroke="#000" stroke-width="1.05" />
<line x1="331.00" y1="445.50" x2="421.50" y2="445.50" stroke="#000" stroke-width="1.3" />
<line x1="331.00" y1="442.60" x2="331.00" y2="448.40" stroke="#000" stroke-width="1.15" />
<line x1="421.50" y1="442.60" x2="421.50" y2="448.40" stroke="#000" stroke-width="1.15" />
<circle cx="376.3" cy="445.5" r="2.9" fill="#000"/>
<text x="477.80" y="388.40" font-size="11.5" text-anchor="start" >W<tspan dx="-0.7">T-Q</tspan></text>
<text x="477.80" y="408.50" font-size="11.5" text-anchor="start" >W<tspan dx="-0.7">T-N</tspan></text>
<text x="477.80" y="428.70" font-size="11.25" text-anchor="start" ><tspan font-family="'Liberation Serif', serif" font-size="13">α</tspan>9KO-Q</text>
<text x="477.80" y="448.70" font-size="11.25" text-anchor="start" ><tspan font-family="'Liberation Serif', serif" font-size="13">α</tspan>9KO-N</text>
<text x="267.95" y="482.30" font-size="12.7" text-anchor="middle" >0</text>
<text x="312.73" y="482.30" font-size="12.7" text-anchor="middle" >10</text>
<text x="357.01" y="482.30" font-size="12.7" text-anchor="middle" >20</text>
<text x="402.48" y="482.30" font-size="12.7" text-anchor="middle" >30</text>
<text x="447.56" y="482.30" font-size="12.7" text-anchor="middle" >40</text>
<text x="368.80" y="496.00" font-size="12.6" text-anchor="middle" >Rank</text>
<text x="265.40" y="13.60" font-size="16.7" text-anchor="start" >B</text>
</svg>
</body>
</html>
